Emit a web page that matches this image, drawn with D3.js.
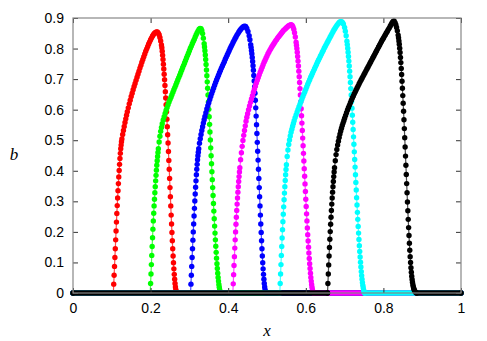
<!DOCTYPE html>
<html>
<head>
<meta charset="utf-8">
<script src="https://cdn.jsdelivr.net/npm/d3@7"></script>
<style>
    body { margin: 0; background: #fff; }
    svg text { font-family: "Liberation Sans", Arial, sans-serif; font-size: 14px; fill: #000; }
    svg text.axis-title { font-family: "Liberation Serif", "Times New Roman", serif; font-style: italic; font-size: 17px; }
</style>
</head>
<body>
<svg id="chart" width="487" height="341"></svg>
<script>
const X_TICKS = [0, 0.2, 0.4, 0.6, 0.8, 1];
const Y_TICKS = [0, 0.1, 0.2, 0.3, 0.4, 0.5, 0.6, 0.7, 0.8, 0.9];

// [x, b]; b is 0 outside each pulse
const RED = [[0,0],[0.104,0],[0.105,0.029],[0.106,0.058],[0.107,0.087],[0.108,0.116],[0.109,0.145],[0.110,0.174],[0.111,0.203],[0.112,0.232],[0.113,0.26],[0.114,0.286],[0.115,0.311],[0.116,0.335],[0.117,0.358],[0.118,0.38],[0.119,0.401],[0.120,0.421],[0.121,0.44],[0.122,0.457],[0.123,0.472],[0.124,0.484],[0.125,0.495],[0.126,0.504],[0.128,0.519],[0.130,0.532],[0.132,0.545],[0.134,0.558],[0.136,0.57],[0.138,0.582],[0.140,0.593],[0.1425,0.606],[0.145,0.619],[0.1475,0.631],[0.150,0.643],[0.1525,0.654],[0.155,0.665],[0.1575,0.676],[0.160,0.686],[0.1625,0.696],[0.165,0.706],[0.1675,0.716],[0.170,0.726],[0.1725,0.736],[0.175,0.745],[0.1775,0.755],[0.180,0.764],[0.1825,0.773],[0.185,0.782],[0.1875,0.791],[0.190,0.799],[0.1925,0.807],[0.195,0.815],[0.1975,0.822],[0.200,0.829],[0.2025,0.835],[0.205,0.841],[0.2075,0.846],[0.210,0.85],[0.2125,0.853],[0.215,0.854],[0.2175,0.854],[0.220,0.85],[0.222,0.845],[0.224,0.836],[0.226,0.825],[0.228,0.812],[0.229,0.803],[0.230,0.791],[0.231,0.778],[0.232,0.764],[0.233,0.749],[0.234,0.733],[0.235,0.716],[0.236,0.698],[0.237,0.679],[0.238,0.659],[0.239,0.638],[0.240,0.616],[0.241,0.593],[0.242,0.569],[0.243,0.544],[0.244,0.518],[0.245,0.491],[0.246,0.463],[0.247,0.434],[0.248,0.405],[0.249,0.375],[0.250,0.345],[0.251,0.315],[0.252,0.285],[0.253,0.255],[0.254,0.226],[0.255,0.198],[0.256,0.171],[0.257,0.145],[0.258,0.121],[0.259,0.099],[0.260,0.079],[0.261,0.061],[0.262,0.045],[0.263,0.031],[0.264,0.02],[0.265,0.011],[0.266,0.005],[0.267,0.001],[0.268,0],[1,0]];

const GREEN = [[0,0],[0.199,0],[0.200,0.031],[0.201,0.062],[0.202,0.093],[0.203,0.123],[0.204,0.152],[0.205,0.181],[0.206,0.209],[0.207,0.236],[0.208,0.261],[0.209,0.285],[0.210,0.307],[0.211,0.328],[0.212,0.348],[0.213,0.367],[0.214,0.385],[0.215,0.402],[0.216,0.418],[0.217,0.433],[0.218,0.447],[0.219,0.46],[0.220,0.472],[0.222,0.494],[0.224,0.513],[0.226,0.529],[0.228,0.542],[0.230,0.554],[0.2325,0.566],[0.235,0.577],[0.2375,0.588],[0.240,0.598],[0.2425,0.607],[0.245,0.616],[0.2475,0.625],[0.250,0.633],[0.2525,0.641],[0.255,0.649],[0.2575,0.657],[0.260,0.665],[0.2625,0.673],[0.265,0.681],[0.2675,0.689],[0.270,0.697],[0.2725,0.705],[0.275,0.713],[0.2775,0.721],[0.280,0.729],[0.2825,0.737],[0.285,0.745],[0.2875,0.753],[0.290,0.761],[0.2925,0.769],[0.295,0.777],[0.2975,0.785],[0.300,0.793],[0.3025,0.801],[0.305,0.808],[0.3075,0.816],[0.310,0.823],[0.3125,0.83],[0.315,0.838],[0.3175,0.845],[0.320,0.852],[0.3225,0.858],[0.325,0.863],[0.3275,0.866],[0.330,0.865],[0.332,0.859],[0.334,0.849],[0.336,0.834],[0.338,0.816],[0.339,0.805],[0.340,0.793],[0.341,0.779],[0.342,0.764],[0.343,0.748],[0.344,0.73],[0.345,0.711],[0.346,0.691],[0.347,0.67],[0.348,0.648],[0.349,0.625],[0.350,0.601],[0.351,0.577],[0.352,0.552],[0.353,0.527],[0.354,0.501],[0.355,0.475],[0.356,0.449],[0.357,0.423],[0.358,0.397],[0.359,0.371],[0.360,0.345],[0.361,0.319],[0.362,0.293],[0.363,0.268],[0.364,0.243],[0.365,0.219],[0.366,0.196],[0.367,0.174],[0.368,0.153],[0.369,0.133],[0.370,0.114],[0.371,0.096],[0.372,0.08],[0.373,0.065],[0.374,0.051],[0.375,0.039],[0.376,0.028],[0.377,0.019],[0.378,0.011],[0.379,0.005],[0.380,0.001],[0.381,0],[1,0]];

const BLUE = [[0,0],[0.303,0],[0.304,0.029],[0.305,0.058],[0.306,0.087],[0.307,0.116],[0.308,0.145],[0.309,0.173],[0.310,0.2],[0.311,0.226],[0.312,0.252],[0.313,0.277],[0.314,0.301],[0.315,0.324],[0.316,0.346],[0.317,0.367],[0.318,0.387],[0.319,0.405],[0.320,0.421],[0.321,0.436],[0.322,0.449],[0.323,0.461],[0.324,0.472],[0.326,0.49],[0.328,0.505],[0.330,0.519],[0.332,0.532],[0.334,0.544],[0.336,0.556],[0.338,0.567],[0.340,0.578],[0.3425,0.59],[0.345,0.602],[0.3475,0.613],[0.350,0.623],[0.3525,0.633],[0.355,0.643],[0.3575,0.653],[0.360,0.662],[0.3625,0.671],[0.365,0.68],[0.3675,0.689],[0.370,0.697],[0.3725,0.705],[0.375,0.713],[0.3775,0.721],[0.380,0.728],[0.3825,0.736],[0.385,0.743],[0.3875,0.75],[0.390,0.757],[0.3925,0.765],[0.395,0.772],[0.3975,0.779],[0.400,0.786],[0.4025,0.793],[0.405,0.8],[0.4075,0.807],[0.410,0.813],[0.4125,0.82],[0.415,0.826],[0.4175,0.832],[0.420,0.838],[0.4225,0.844],[0.425,0.849],[0.4275,0.854],[0.430,0.859],[0.4325,0.863],[0.435,0.867],[0.4375,0.87],[0.440,0.872],[0.4425,0.873],[0.445,0.872],[0.448,0.866],[0.451,0.856],[0.454,0.842],[0.456,0.829],[0.458,0.813],[0.459,0.804],[0.460,0.794],[0.461,0.783],[0.462,0.771],[0.463,0.758],[0.464,0.744],[0.465,0.729],[0.466,0.712],[0.467,0.694],[0.468,0.675],[0.469,0.654],[0.470,0.631],[0.471,0.606],[0.472,0.579],[0.473,0.551],[0.474,0.522],[0.475,0.493],[0.476,0.464],[0.477,0.435],[0.478,0.405],[0.479,0.375],[0.480,0.345],[0.481,0.315],[0.482,0.285],[0.483,0.255],[0.484,0.226],[0.485,0.198],[0.486,0.171],[0.487,0.145],[0.488,0.121],[0.489,0.099],[0.490,0.079],[0.491,0.061],[0.492,0.045],[0.493,0.031],[0.494,0.02],[0.495,0.011],[0.496,0.005],[0.497,0.001],[0.498,0],[1,0]];

const MAGENTA = [[0,0],[0.412,0],[0.413,0.03],[0.414,0.06],[0.415,0.09],[0.416,0.119],[0.417,0.147],[0.418,0.174],[0.419,0.2],[0.420,0.225],[0.421,0.248],[0.422,0.27],[0.423,0.291],[0.424,0.311],[0.425,0.33],[0.426,0.348],[0.427,0.365],[0.428,0.381],[0.429,0.396],[0.430,0.41],[0.432,0.436],[0.434,0.459],[0.436,0.48],[0.438,0.499],[0.440,0.516],[0.442,0.532],[0.444,0.547],[0.446,0.562],[0.448,0.575],[0.450,0.587],[0.4525,0.6],[0.455,0.612],[0.4575,0.624],[0.460,0.635],[0.4625,0.646],[0.465,0.657],[0.4675,0.667],[0.470,0.677],[0.4725,0.687],[0.475,0.696],[0.4775,0.705],[0.480,0.714],[0.4825,0.723],[0.485,0.731],[0.4875,0.739],[0.490,0.747],[0.4925,0.755],[0.495,0.762],[0.4975,0.769],[0.500,0.776],[0.5025,0.783],[0.505,0.789],[0.5075,0.795],[0.510,0.8],[0.5125,0.806],[0.515,0.811],[0.5175,0.816],[0.520,0.821],[0.5225,0.826],[0.525,0.83],[0.5275,0.835],[0.530,0.839],[0.5325,0.843],[0.535,0.847],[0.5375,0.851],[0.540,0.855],[0.5425,0.859],[0.545,0.862],[0.5475,0.865],[0.550,0.868],[0.5525,0.871],[0.555,0.874],[0.5575,0.876],[0.560,0.877],[0.5625,0.878],[0.565,0.876],[0.567,0.871],[0.569,0.863],[0.571,0.852],[0.573,0.838],[0.575,0.821],[0.576,0.811],[0.577,0.8],[0.578,0.788],[0.579,0.774],[0.580,0.759],[0.581,0.743],[0.582,0.726],[0.583,0.708],[0.584,0.689],[0.585,0.669],[0.586,0.648],[0.587,0.626],[0.588,0.603],[0.589,0.58],[0.590,0.556],[0.591,0.532],[0.592,0.507],[0.593,0.482],[0.594,0.457],[0.595,0.432],[0.596,0.407],[0.597,0.382],[0.598,0.357],[0.599,0.332],[0.600,0.307],[0.601,0.283],[0.602,0.259],[0.603,0.236],[0.604,0.213],[0.605,0.191],[0.606,0.17],[0.607,0.15],[0.608,0.131],[0.609,0.113],[0.610,0.096],[0.611,0.08],[0.612,0.065],[0.613,0.051],[0.614,0.039],[0.615,0.028],[0.616,0.019],[0.617,0.011],[0.618,0.005],[0.619,0.001],[0.620,0],[1,0]];

const CYAN = [[0,0],[0.533,0],[0.534,0.031],[0.535,0.062],[0.536,0.093],[0.537,0.123],[0.538,0.152],[0.539,0.18],[0.540,0.207],[0.541,0.233],[0.542,0.258],[0.543,0.282],[0.544,0.305],[0.545,0.327],[0.546,0.348],[0.547,0.368],[0.548,0.387],[0.549,0.404],[0.550,0.42],[0.552,0.447],[0.554,0.468],[0.556,0.486],[0.558,0.501],[0.560,0.514],[0.562,0.526],[0.564,0.536],[0.566,0.546],[0.568,0.555],[0.570,0.564],[0.5725,0.574],[0.575,0.583],[0.5775,0.592],[0.580,0.601],[0.5825,0.61],[0.585,0.618],[0.5875,0.627],[0.590,0.635],[0.5925,0.643],[0.595,0.651],[0.5975,0.659],[0.600,0.667],[0.6025,0.675],[0.605,0.683],[0.6075,0.691],[0.610,0.698],[0.6125,0.706],[0.615,0.713],[0.6175,0.72],[0.620,0.727],[0.6225,0.734],[0.625,0.741],[0.6275,0.748],[0.630,0.755],[0.6325,0.762],[0.635,0.768],[0.6375,0.775],[0.640,0.781],[0.6425,0.788],[0.645,0.794],[0.6475,0.801],[0.650,0.807],[0.6525,0.813],[0.655,0.819],[0.6575,0.825],[0.660,0.831],[0.6625,0.837],[0.665,0.843],[0.6675,0.849],[0.670,0.855],[0.6725,0.861],[0.675,0.866],[0.6775,0.871],[0.680,0.876],[0.6825,0.88],[0.685,0.884],[0.6875,0.887],[0.690,0.888],[0.6925,0.888],[0.695,0.885],[0.697,0.88],[0.700,0.869],[0.702,0.857],[0.704,0.842],[0.706,0.824],[0.707,0.813],[0.708,0.801],[0.709,0.788],[0.710,0.774],[0.711,0.759],[0.712,0.743],[0.713,0.726],[0.714,0.708],[0.715,0.689],[0.716,0.669],[0.717,0.648],[0.718,0.627],[0.719,0.605],[0.720,0.582],[0.721,0.559],[0.722,0.535],[0.723,0.511],[0.724,0.487],[0.725,0.462],[0.726,0.437],[0.727,0.412],[0.728,0.387],[0.729,0.362],[0.730,0.337],[0.731,0.312],[0.732,0.288],[0.733,0.264],[0.734,0.241],[0.735,0.218],[0.736,0.196],[0.737,0.175],[0.738,0.155],[0.739,0.136],[0.740,0.118],[0.741,0.101],[0.742,0.085],[0.743,0.07],[0.744,0.057],[0.745,0.045],[0.746,0.034],[0.747,0.025],[0.748,0.017],[0.749,0.01],[0.750,0.005],[0.751,0.001],[0.752,0],[1,0]];

const BLACK = [[0,0],[0.656,0],[0.657,0.031],[0.658,0.062],[0.659,0.092],[0.660,0.121],[0.661,0.149],[0.662,0.176],[0.663,0.201],[0.664,0.225],[0.665,0.248],[0.666,0.27],[0.667,0.291],[0.668,0.311],[0.669,0.33],[0.670,0.348],[0.671,0.365],[0.672,0.381],[0.673,0.396],[0.674,0.41],[0.676,0.433],[0.678,0.453],[0.680,0.47],[0.682,0.484],[0.684,0.497],[0.686,0.509],[0.688,0.52],[0.690,0.53],[0.692,0.539],[0.694,0.548],[0.696,0.556],[0.698,0.564],[0.700,0.572],[0.7025,0.581],[0.705,0.59],[0.7075,0.599],[0.710,0.607],[0.7125,0.615],[0.715,0.623],[0.7175,0.631],[0.720,0.638],[0.7225,0.645],[0.725,0.652],[0.7275,0.659],[0.730,0.665],[0.7325,0.672],[0.735,0.678],[0.7375,0.685],[0.740,0.691],[0.7425,0.697],[0.745,0.703],[0.7475,0.709],[0.750,0.715],[0.7525,0.721],[0.755,0.727],[0.7575,0.733],[0.760,0.739],[0.7625,0.745],[0.765,0.751],[0.7675,0.757],[0.770,0.763],[0.7725,0.769],[0.775,0.775],[0.7775,0.781],[0.780,0.787],[0.7825,0.793],[0.785,0.799],[0.7875,0.805],[0.790,0.811],[0.7925,0.817],[0.795,0.823],[0.7975,0.829],[0.800,0.834],[0.8025,0.84],[0.805,0.845],[0.8075,0.851],[0.810,0.856],[0.8125,0.862],[0.815,0.867],[0.8175,0.873],[0.820,0.879],[0.8225,0.885],[0.825,0.889],[0.8275,0.89],[0.830,0.885],[0.832,0.878],[0.834,0.869],[0.836,0.858],[0.838,0.844],[0.839,0.835],[0.840,0.825],[0.841,0.814],[0.842,0.801],[0.843,0.787],[0.844,0.771],[0.845,0.754],[0.846,0.735],[0.847,0.715],[0.848,0.693],[0.849,0.67],[0.850,0.646],[0.851,0.621],[0.852,0.595],[0.853,0.567],[0.854,0.538],[0.855,0.508],[0.856,0.478],[0.857,0.448],[0.858,0.418],[0.859,0.388],[0.860,0.358],[0.861,0.328],[0.862,0.298],[0.863,0.269],[0.864,0.241],[0.865,0.214],[0.866,0.188],[0.867,0.163],[0.868,0.14],[0.869,0.119],[0.870,0.1],[0.871,0.083],[0.872,0.068],[0.873,0.055],[0.874,0.044],[0.875,0.035],[0.876,0.027],[0.877,0.021],[0.878,0.016],[0.879,0.012],[0.880,0.008],[0.882,0.004],[0.884,0.001],[0.886,0],[1,0]];

const SERIES = [
    { data: RED, color: "#ff0000" },
    { data: GREEN, color: "#00ff00" },
    { data: BLUE, color: "#0000ff" },
    { data: MAGENTA, color: "#ff00ff" },
    { data: CYAN, color: "#00ffff" },
    { data: BLACK, color: "#000000" },
];

const svg = d3.select("#chart");
const margin = { top: 18, right: 26, bottom: 48, left: 73 };
const W = +svg.attr("width");
const H = +svg.attr("height");

const x = d3.scaleLinear().domain([0, 1]).range([margin.left, W - margin.right]);
const y = d3.scaleLinear().domain([0, 0.9]).range([H - margin.bottom, margin.top]);

const TICK = 5;
const DOT_R = 2.7;
const fmt = d3.format("~g");

function styleAxis(g) {
    g.select(".domain").remove();
    g.selectAll(".tick line").attr("stroke", "#333");
}

// curves, drawn in order so black ends up on top
SERIES.forEach((s) => {
    const g = svg.append("g");

    g.append("path")
        .datum(s.data)
        .attr("fill", "none")
        .attr("stroke", s.color)
        .attr("stroke-width", 1.2)
        .attr("stroke-opacity", 0.7)
        .attr("d", d3.line().x((d) => x(d[0])).y((d) => y(d[1])));

    // runs of b = 0 are a solid row of points in the original
    const zeroRuns = d3.pairs(s.data).filter(([a, b]) => a[1] === 0 && b[1] === 0);
    g.selectAll(".zero")
        .data(zeroRuns)
        .enter()
        .append("line")
        .attr("class", "zero")
        .attr("x1", (d) => x(d[0][0]))
        .attr("x2", (d) => x(d[1][0]))
        .attr("y1", (d) => y(d[0][1]))
        .attr("y2", (d) => y(d[1][1]))
        .attr("stroke", s.color)
        .attr("stroke-width", 2 * DOT_R)
        .attr("stroke-linecap", "round");

    g.selectAll("circle")
        .data(s.data)
        .enter()
        .append("circle")
        .attr("cx", (d) => x(d[0]))
        .attr("cy", (d) => y(d[1]))
        .attr("r", DOT_R)
        .attr("fill", s.color);
});

svg.append("g")
    .attr("transform", `translate(0,${y(0)})`)
    .call(d3.axisBottom(x).tickValues(X_TICKS).tickSize(-TICK).tickPadding(10).tickFormat(fmt))
    .call(styleAxis);

svg.append("g")
    .attr("transform", `translate(${x(0)},0)`)
    .call(d3.axisLeft(y).tickValues(Y_TICKS).tickSize(-TICK).tickPadding(9).tickFormat(fmt))
    .call(styleAxis);

svg.append("g")
    .attr("transform", `translate(0,${y(0.9)})`)
    .call(d3.axisTop(x).tickValues(X_TICKS).tickSize(-TICK).tickFormat(""))
    .call(styleAxis);

svg.append("g")
    .attr("transform", `translate(${x(1)},0)`)
    .call(d3.axisRight(y).tickValues(Y_TICKS).tickSize(-TICK).tickFormat(""))
    .call(styleAxis);

svg.append("rect")
    .attr("x", x(0))
    .attr("y", y(0.9))
    .attr("width", x(1) - x(0))
    .attr("height", y(0) - y(0.9))
    .attr("fill", "none")
    .attr("stroke", "#888")
    .attr("stroke-width", 1.2);

svg.append("text")
    .attr("class", "axis-title")
    .attr("x", (x(0) + x(1)) / 2)
    .attr("y", 336)
    .attr("text-anchor", "middle")
    .text("x");

svg.append("text")
    .attr("class", "axis-title")
    .attr("x", 14)
    .attr("y", 160)
    .attr("text-anchor", "middle")
    .text("b");
</script>
</body>
</html>
